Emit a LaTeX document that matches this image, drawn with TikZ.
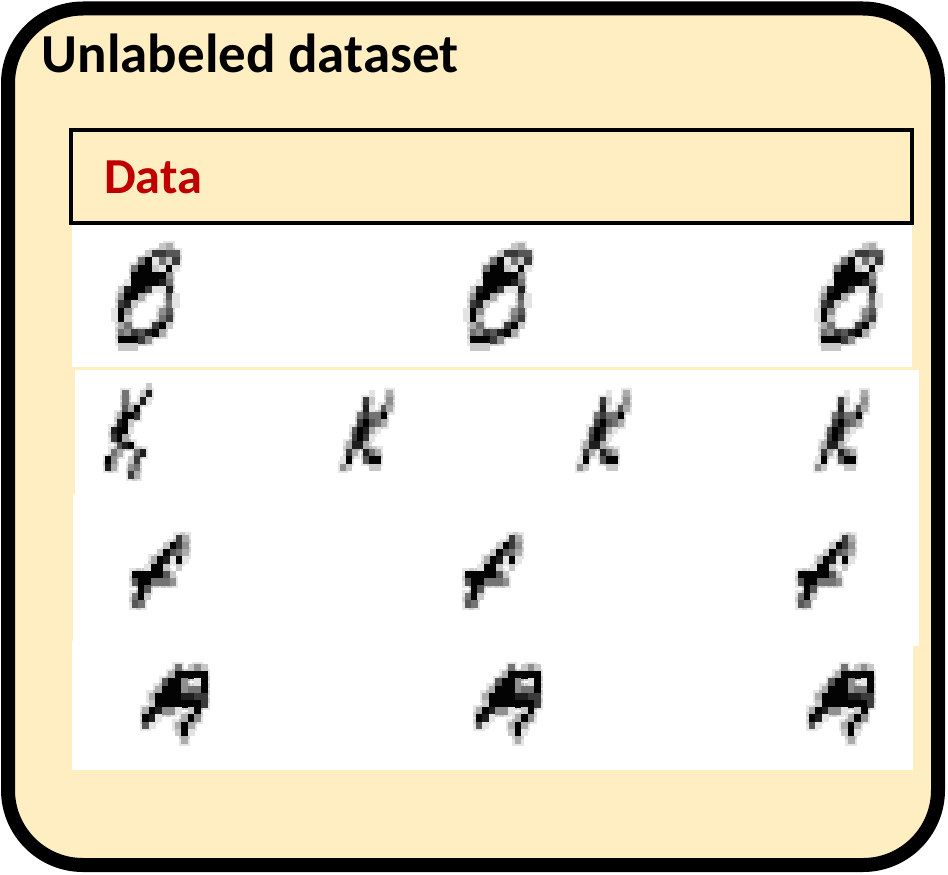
\documentclass[tikz,border=0pt]{standalone}
\usepackage{fontspec}
\setmainfont{Carlito}
\definecolor{cream}{HTML}{FFEEC2}
\definecolor{datared}{HTML}{C00000}
\tikzset{
  outerbox/.style={draw=black,line width=14pt,fill=cream,rounded corners=75pt},
  headerbox/.style={draw=black,line width=4pt,fill=cream},
  panel/.style={fill=white,draw=none},
  titletext/.style={anchor=base west,inner sep=0pt,font=\fontsize{55}{60}\selectfont\bfseries},
  datatext/.style={anchor=base west,inner sep=0pt,text=datared,font=\fontsize{50.4}{54}\selectfont\bfseries},
}
\newcount\gcol \newcount\grow \newcount\gpass
\def\gcell#1{%
  \ifnum#1>0
    \ifnum\gpass=0
      \ifnum#1>2
        \fill[black,opacity=0.1] ({\gx+\the\gcol*\gw-2.5},{\gy+\the\grow*\gh-2.5}) rectangle ++({\gw+5},{\gh+5});
      \fi
    \else
      \fill[black!\the\numexpr#1*11\relax] ({\gx+\the\gcol*\gw},{\gy+\the\grow*\gh}) rectangle ++({\gw+0.3},{\gh+0.3});
    \fi
  \fi
  \global\advance\gcol by 1
}
\def\gparse#1{\ifx#1\relax\else\gcell{#1}\expandafter\gparse\fi}
\newcommand\pixglyph[5]{%
  \def\gx{#1}\def\gy{#2}\def\gw{#3}\def\gh{#4}%
  \global\gpass=0
  \global\grow=0
  \foreach \rowstr in #5{%
    \global\gcol=0
    \expandafter\gparse\rowstr\relax
    \global\advance\grow by 1
  }%
  \global\gpass=1
  \global\grow=0
  \foreach \rowstr in #5{%
    \global\gcol=0
    \expandafter\gparse\rowstr\relax
    \global\advance\grow by 1
  }%
}
\def\eightrows{00000002300,00000277660,00005915270,00059921910,00099999400,00199998500,02899711800,04993000610,07820000510,19400004600,19200005700,03500079200,05476893000,09997400000,02220000000}
\def\kone{00000002,00050028,00050081,00063900,00399700,00892000,08991000,07930000,00689000,05300580,94002700,83004500,00007300}
\def\ktwo{000001003,000072004,000081063,000575590,000796530,006983100,007971000,038830000,073085300,190069900,420002200}
\def\slashrows{000000073,000002974,000029653,000398191,001992020,999996200,699555400,096000000,592000000,650000000}
\def\arow{0000050242,0000399999,0006994019,0039994559,0399998877,0299999997,3984410290,9810003940,6100039300,0000029100,0000003000}
\begin{document}
\begin{tikzpicture}[x=1pt,y=-1pt]
  \useasboundingbox (0,0) rectangle (948,875);
  \path[outerbox] (8,8.5) rectangle (938,865);
  % white panels
  \path[panel] (71.7,224) rectangle (912,367.3);
  \path[panel] (75.3,370) rectangle (918.7,494);
  \path[panel] (72.5,494) rectangle (918.7,646);
  \path[panel] (71.7,641) rectangle (912.8,770);
  \path[headerbox] (71,129.7) rectangle (911.5,223);
  \node[titletext] (title) at (41.5,72.5) {Unlabeled dataset};
  \node[datatext] (data) at (104,193) {Data};
  % row 1
  \pixglyph{110.7}{243}{6.85}{7.17}{\eightrows}
  \pixglyph{462.7}{243}{6.85}{7.17}{\eightrows}
  \pixglyph{813.7}{243}{6.85}{7.17}{\eightrows}
  % row 2
  \pixglyph{105}{382.7}{5.8}{7.35}{\kone}
  \pixglyph{340}{390}{5.8}{7.35}{\ktwo}
  \pixglyph{577}{390}{5.8}{7.35}{\ktwo}
  \pixglyph{815}{390}{5.8}{7.35}{\ktwo}
  % row 3
  \pixglyph{131.7}{534.7}{6.3}{7.25}{\slashrows}
  \pixglyph{464.7}{534.7}{6.3}{7.25}{\slashrows}
  \pixglyph{797.7}{534.7}{6.3}{7.25}{\slashrows}
  % row 4
  \pixglyph{142.3}{664}{6.5}{7.2}{\arow}
  \pixglyph{475.5}{664}{6.5}{7.2}{\arow}
  \pixglyph{808.7}{664}{6.5}{7.2}{\arow}
\end{tikzpicture}
\end{document}
